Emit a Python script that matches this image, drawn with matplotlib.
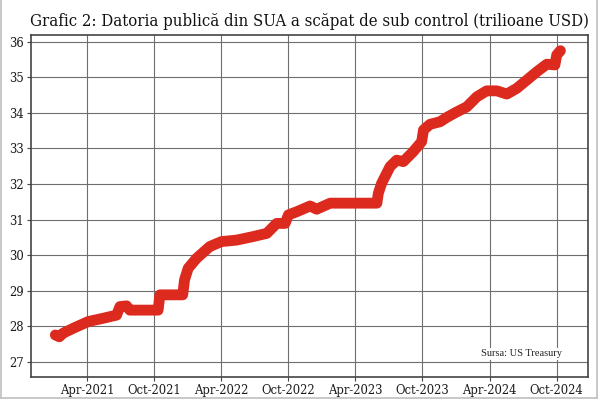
import matplotlib
matplotlib.use("Agg")
import matplotlib.pyplot as plt
import matplotlib.dates as mdates
from matplotlib.lines import Line2D
import numpy as np

# datoria publica SUA (trilioane USD)
dates = [
    "2021-01-04", "2021-01-15", "2021-01-25", "2021-02-22", "2021-04-04",
    "2021-05-14", "2021-06-20", "2021-06-29", "2021-07-17", "2021-07-26",
    "2021-10-11", "2021-10-16", "2021-12-17", "2021-12-22", "2022-01-01",
    "2022-01-24", "2022-03-01", "2022-04-02", "2022-05-13", "2022-06-27",
    "2022-08-03", "2022-08-30", "2022-09-22", "2022-10-01", "2022-10-24",
    "2022-11-29", "2022-12-17", "2023-01-23", "2023-05-30", "2023-06-03",
    "2023-06-12", "2023-07-05", "2023-07-23", "2023-08-10", "2023-09-06",
    "2023-09-29", "2023-10-04", "2023-10-22", "2023-11-18", "2023-12-06",
    "2024-01-03", "2024-01-30", "2024-02-26", "2024-03-24", "2024-04-21",
    "2024-05-18", "2024-06-14", "2024-07-11", "2024-08-08", "2024-09-04",
    "2024-09-26", "2024-10-01", "2024-10-11",
]
debt = [
    27.75, 27.70, 27.80, 27.94, 28.13,
    28.22, 28.31, 28.55, 28.57, 28.45,
    28.45, 28.88, 28.88, 29.30, 29.63,
    29.91, 30.24, 30.38, 30.42, 30.52,
    30.61, 30.89, 30.89, 31.13, 31.22,
    31.38, 31.29, 31.46, 31.46, 31.74,
    32.02, 32.49, 32.67, 32.63, 32.91,
    33.19, 33.52, 33.68, 33.75, 33.87,
    34.03, 34.17, 34.45, 34.62, 34.62,
    34.53, 34.69, 34.92, 35.16, 35.37,
    35.35, 35.63, 35.75,
]
yticks = [27, 28, 29, 30, 31, 32, 33, 34, 35, 36]

x = np.array(dates, dtype="datetime64[D]")

fig = plt.figure(figsize=(6, 3.99), dpi=100)
ax = fig.add_axes([0.0512, 0.0544, 0.9293, 0.8586])

ax.plot(x, debt, color="#dc2a1f", lw=7.8, solid_capstyle="round",
        solid_joinstyle="round", zorder=3)

ax.set_xlim(np.datetime64("2020-10-29"), np.datetime64("2024-12-26"))
ax.set_ylim(26.56, 36.2)
ax.set_yticks(yticks)
ax.xaxis.set_major_locator(mdates.MonthLocator(bymonth=[4, 10]))
ax.xaxis.set_major_formatter(mdates.DateFormatter("%b-%Y"))

ax.grid(True, color="#6e6e6e", lw=0.8)
ax.set_axisbelow(True)
for s in ax.spines.values():
    s.set_color("#444444")
    s.set_linewidth(1.2)
ax.tick_params(length=3, width=0.8, color="#444444", labelsize=8.4,
               labelcolor="#1a1a1a", pad=2)
for lab in ax.get_xticklabels() + ax.get_yticklabels():
    lab.set_family("DejaVu Serif")

ax.set_title("Grafic 2: Datoria publică din SUA a scăpat de sub control (trilioane USD)",
             family="DejaVu Serif", fontstretch="condensed", fontsize=12.0,
             color="#111111", pad=6)

ax.text(0.8805, 0.068, "Sursa: US Treasury", transform=ax.transAxes,
        ha="center", va="center", family="Liberation Serif", fontsize=7.5,
        color="#222222", zorder=4,
        bbox=dict(facecolor="white", edgecolor="none", pad=1))

# rama gri a figurii
fc = "#c4c4c4"
fig.add_artist(Line2D([0.002, 0.002], [0.0, 1.0], color=fc, lw=1.3, transform=fig.transFigure))
fig.add_artist(Line2D([0.995, 0.995], [0.0, 1.0], color=fc, lw=1.3, transform=fig.transFigure))
fig.add_artist(Line2D([0.0, 0.995], [0.003, 0.003], color=fc, lw=1.3, transform=fig.transFigure))

fig.savefig("out.png", dpi=100)
